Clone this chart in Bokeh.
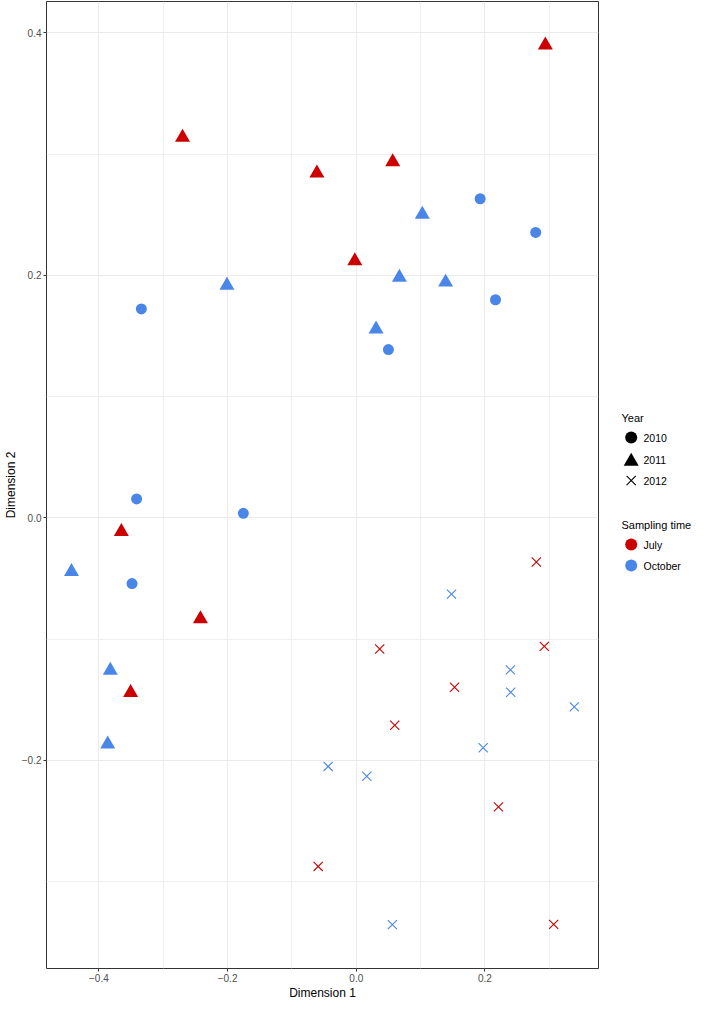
from bokeh.plotting import figure
from bokeh.layouts import row
from bokeh.models import Range1d, FixedTicker, ColumnDataSource
from bokeh.core.properties import value
from bokeh.embed import file_html
from bokeh.resources import INLINE

# ---------------- data ----------------
years = ["2010", "2011", "2012"]
times = ["July", "October"]

dim1 = [
    # 2010 October
    0.0499, 0.1925, 0.2788, 0.2163, -0.3340, -0.3414, -0.1755, -0.3485,
    # 2011 July
    -0.2700, -0.0612, 0.2938, 0.0566, -0.0023, -0.3651, -0.2422, -0.3507,
    # 2011 October
    -0.2010, 0.1026, 0.0670, 0.1388, 0.0307, -0.4426, -0.3822, -0.3863,
    # 2012 July
    0.2798, 0.0364, 0.2922, 0.1527, 0.0597, 0.2209, -0.0592, 0.3067,
    # 2012 October
    0.1480, 0.2395, 0.2400, 0.3388, 0.1972, -0.0437, 0.0163, 0.0561,
]
dim2 = [
    # 2010 October
    0.1388, 0.2632, 0.2354, 0.1799, 0.1723, 0.0156, 0.0037, -0.0542,
    # 2011 July
    0.3138, 0.2843, 0.3899, 0.2936, 0.2119, -0.0114, -0.0834, -0.1441,
    # 2011 October
    0.1917, 0.2502, 0.1984, 0.1943, 0.1557, -0.0443, -0.1258, -0.1867,
    # 2012 July
    -0.0364, -0.1082, -0.1060, -0.1397, -0.1710, -0.2384, -0.2875, -0.3353,
    # 2012 October
    -0.0629, -0.1254, -0.1438, -0.1559, -0.1896, -0.2050, -0.2131, -0.3355,
]
year = (["2010"] * 8) + (["2011"] * 8) + (["2011"] * 8) + (["2012"] * 8) + (["2012"] * 8)
sampling = (["October"] * 8) + (["July"] * 8) + (["October"] * 8) + (["July"] * 8) + (["October"] * 8)

x_ticks = [-0.4, -0.2, 0.0, 0.2]
x_tick_labels = ["\u22120.4", "\u22120.2", "0.0", "0.2"]
x_minor = [-0.3, -0.1, 0.1, 0.3]
y_ticks = [-0.2, 0.0, 0.2, 0.4]
y_tick_labels = ["\u22120.2", "0.0", "0.2", "0.4"]
y_minor = [-0.3, -0.1, 0.1, 0.3]

# ---------------- styles / layout ----------------
colors = {"July": "#CC0000", "October": "#4A86E8"}
markers = {"2010": ("circle", 11), "2011": ("triangle", 15), "2012": ("x", 13)}
legend_marker_size = {"circle": 12, "triangle": 15, "x": 13}
FONT = "Liberation Sans"
H = 1002
W_MAIN = 600
W_LEG = 93
B_TOP, B_BOTTOM = 1, 34

p = figure(
    width=W_MAIN, height=H,
    x_range=Range1d(-0.4814, 0.3764), y_range=Range1d(-0.3717, 0.4259),
    output_backend="svg", toolbar_location=None,
    min_border_left=37, min_border_right=2, min_border_top=B_TOP, min_border_bottom=B_BOTTOM,
    background_fill_color="white", border_fill_color="white",
)
p.outline_line_color = "#333333"
p.outline_line_width = 1

for ax, ticks, labels, minor in ((p.xaxis[0], x_ticks, x_tick_labels, x_minor),
                                 (p.yaxis[0], y_ticks, y_tick_labels, y_minor)):
    ax.ticker = FixedTicker(ticks=ticks, minor_ticks=minor)
    ax.major_label_overrides = {t: l for t, l in zip(ticks, labels)}
    ax.axis_line_color = None
    ax.major_tick_line_color = "#333333"
    ax.major_tick_out = 3
    ax.major_tick_in = 0
    ax.minor_tick_out = 0
    ax.minor_tick_in = 0
    ax.major_label_text_font = FONT
    ax.major_label_text_font_size = "10px"
    ax.major_label_text_color = "#4D4D4D"
    ax.major_label_standoff = 2
    ax.axis_label_text_font = FONT
    ax.axis_label_text_font_size = "12px"
    ax.axis_label_text_font_style = "normal"
    ax.axis_label_text_color = "black"
    ax.axis_label_standoff = 1

p.xaxis.axis_label = "Dimension 1"
p.yaxis.axis_label = "Dimension 2"

for g in (p.xgrid[0], p.ygrid[0]):
    g.grid_line_color = "#EBEBEB"
    g.grid_line_width = 1
    g.minor_grid_line_color = "#EFEFEF"
    g.minor_grid_line_width = 1

# ---------------- data marks ----------------
for yr in years:
    mk, sz = markers[yr]
    for t in times:
        idx = [i for i in range(len(dim1)) if year[i] == yr and sampling[i] == t]
        if not idx:
            continue
        src = ColumnDataSource(dict(x=[dim1[i] for i in idx], y=[dim2[i] for i in idx]))
        if mk == "x":
            p.scatter("x", "y", source=src, marker=mk, size=sz,
                      line_color=colors[t], line_width=1.1)
        else:
            p.scatter("x", "y", source=src, marker=mk, size=sz,
                      fill_color=colors[t], line_color=None)

# ---------------- legend panel (pixel-like coordinates, y downward) ----------------
frame_bottom = H - B_BOTTOM
lg = figure(
    width=W_LEG, height=H,
    x_range=Range1d(W_MAIN, W_MAIN + W_LEG), y_range=Range1d(frame_bottom, B_TOP),
    output_backend="svg", toolbar_location=None,
    x_axis_location=None, y_axis_location=None,
    min_border_left=0, min_border_right=0, min_border_top=B_TOP, min_border_bottom=B_BOTTOM,
    outline_line_color=None,
    background_fill_color="white", border_fill_color="white",
)
lg.xgrid.visible = False
lg.ygrid.visible = False

title_x, glyph_x, label_x = 621, 630.7, 643
year_title_y, year_item_y = 417, [437, 459, 480]
time_title_y, time_item_y = 524, [544, 565]

lg.text(x=[title_x, title_x], y=[year_title_y, time_title_y], text=["Year", "Sampling time"],
        text_font=value(FONT), text_font_size="11px", text_color="black",
        text_baseline="middle", text_align="left")

for yr, yy in zip(years, year_item_y):
    mk = markers[yr][0]
    sz = legend_marker_size[mk]
    # triangles are centred on their centroid, slightly below the box centre
    yc = yy + 2 if mk == "triangle" else yy
    if mk == "x":
        lg.scatter(x=[glyph_x], y=[yc], marker=mk, size=sz, line_color="black", line_width=1.1)
    else:
        lg.scatter(x=[glyph_x], y=[yc], marker=mk, size=sz, fill_color="black", line_color=None)
lg.text(x=[label_x] * len(years), y=year_item_y, text=years,
        text_font=value(FONT), text_font_size="10.5px", text_color="black",
        text_baseline="middle", text_align="left")

for t, yy in zip(times, time_item_y):
    lg.scatter(x=[glyph_x], y=[yy], marker="circle", size=legend_marker_size["circle"],
               fill_color=colors[t], line_color=None)
lg.text(x=[label_x] * len(times), y=time_item_y, text=times,
        text_font=value(FONT), text_font_size="10.5px", text_color="black",
        text_baseline="middle", text_align="left")

layout = row(p, lg)
open("out.html", "w").write(file_html(layout, INLINE))
